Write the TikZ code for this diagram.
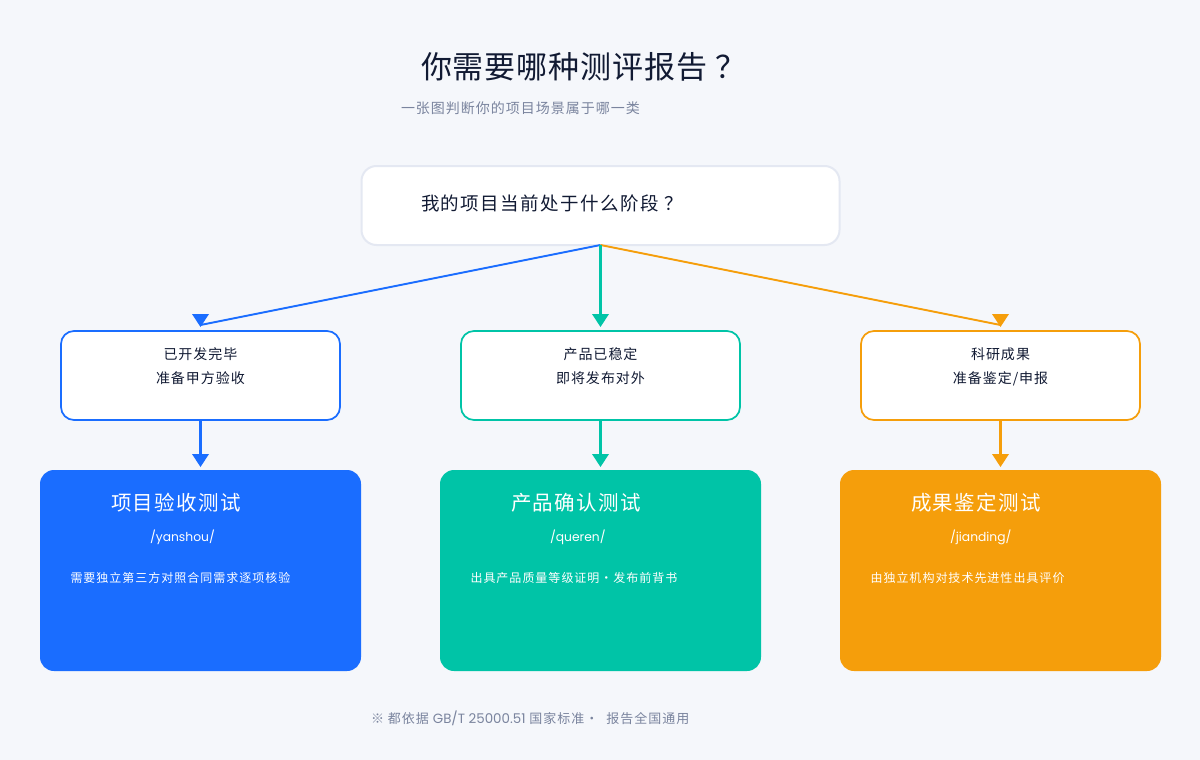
\documentclass[tikz,border=0pt]{standalone}
\usepackage{fontspec}
\usetikzlibrary{calc}
\setmainfont{Noto Sans CJK SC}
\newfontfamily\ftitle[LetterSpace=3.2]{Noto Sans CJK SC}
\newfontfamily\fsub[LetterSpace=7.14]{Noto Sans CJK SC}
\newfontfamily\fq[LetterSpace=8.1]{Noto Sans CJK SC}
\newfontfamily\fcard[LetterSpace=7.3]{Noto Sans CJK SC}
\newfontfamily\fdesc[LetterSpace=8.33]{Noto Sans CJK SC}
\newfontfamily\ffoot[LetterSpace=7.7]{Noto Sans CJK SC}
\newfontfamily\fpop{Poppins}
\definecolor{pagebg}{HTML}{F5F7FB}
\definecolor{inka}{HTML}{111A33}
\definecolor{grayink}{HTML}{7A849E}
\definecolor{edgeq}{HTML}{E4E8F2}
\definecolor{cblue}{HTML}{1A6DFF}
\definecolor{cteal}{HTML}{00C4A7}
\definecolor{camber}{HTML}{F59E0B}
\tikzset{
  qbox/.style={draw=edgeq,line width=2pt,fill=white,rounded corners=15pt,minimum width=478pt,minimum height=79pt,inner sep=0pt,outer sep=0pt},
  choice/.style={draw=#1,line width=1.7pt,fill=white,rounded corners=13pt,minimum width=279pt,minimum height=89pt,inner sep=0pt,outer sep=0pt},
  result/.style={fill=#1,rounded corners=14pt,minimum width=321pt,minimum height=201pt,inner sep=0pt,outer sep=0pt},
  txt/.style={anchor=base west,inner sep=0pt,outer sep=0pt},
  ctr/.style={anchor=base,inner sep=0pt,outer sep=0pt,text=inka,font=\fsub\fontsize{14}{16}\selectfont},
  cardt/.style={txt,text=white,font=\fcard\fontsize{20.5}{24}\selectfont},
  cardl/.style={txt,text=white,font=\fpop\fontsize{12.3}{15}\selectfont},
  cardd/.style={txt,text=white,font=\fdesc\fontsize{12}{14}\selectfont},
  thinlink/.style={draw=#1,line width=1.9pt},
  thicklink/.style={draw=#1,line width=3pt},
  headtri/.style={fill=#1},
}
\newcommand{\headat}[2]{\fill[headtri=#1] (#2) -- ++(-8.5,-13) -- ++(17,0) -- cycle;}
\begin{document}
\begin{tikzpicture}[x=1pt,y=-1pt]
\useasboundingbox (0,0) rectangle (1200,760);
\fill[pagebg] (0,0) rectangle (1200,760);
\node[txt,text=inka,font=\ftitle\fontsize{31}{36}\selectfont] (title) at (421,78) {你需要哪种测评报告\kern8pt？};
\node[txt,text=grayink,font=\fsub\fontsize{14}{16}\selectfont] (sub) at (401,113.5) {一张图判断你的项目场景属于哪一类};
\node[qbox] (q) at (600.5,205.5) {};
\node[txt,text=inka,font=\fq\fontsize{18.5}{22}\selectfont] (qt) at (421,210.5) {我的项目当前处于什么阶段\kern5pt？};
\node[choice=cblue] (a) at (200.5,375.5) {};
\node[choice=cteal] (b) at (600.5,375.5) {};
\node[choice=camber] (c) at (1000.5,375.5) {};
\node[ctr] (a1) at (200.5,359) {已开发完毕};
\node[ctr] (a2) at (200.5,383) {准备甲方验收};
\node[ctr] (b1) at (600.5,359) {产品已稳定};
\node[ctr] (b2) at (600.5,383) {即将发布对外};
\node[ctr] (c1) at (1000.5,359) {科研成果};
\node[ctr] (c2) at (1000.5,383) {准备鉴定/申报};
\node[result=cblue] (ra) at (200.5,570.5) {};
\node[result=cteal] (rb) at (600.5,570.5) {};
\node[result=camber] (rc) at (1000.5,570.5) {};
\node[cardt] (ra1) at (111,510.5) {项目验收测试};
\node[cardl] (ra2) at (150,541) {/yanshou/};
\node[cardd] (ra3) at (70.5,582) {需要独立第三方对照合同需求逐项核验};
\node[cardt] (rb1) at (511,510.5) {产品确认测试};
\node[cardl] (rb2) at (550,541) {/queren/};
\node[cardd] (rb3) at (470.5,582) {出具产品质量等级证明·发布前背书};
\node[cardt] (rc1) at (911,510.5) {成果鉴定测试};
\node[cardl] (rc2) at (950,541) {/jianding/};
\node[cardd] (rc3) at (870.5,582) {由独立机构对技术先进性出具评价};
\coordinate (ta) at ($(a.north)+(0,-4)$);
\coordinate (tb) at ($(b.north)+(0,-4)$);
\coordinate (tc) at ($(c.north)+(0,-4)$);
\coordinate (ua) at ($(ra.north)+(0,-3)$);
\coordinate (ub) at ($(rb.north)+(0,-3)$);
\coordinate (uc) at ($(rc.north)+(0,-3)$);
\draw[thinlink=cblue] (q.south) -- ($(ta)+(0,-2)$);
\draw[thinlink=camber] (q.south) -- ($(tc)+(0,-2)$);
\draw[thicklink=cteal] (q.south) -- ($(tb)+(0,-12)$);
\headat{cblue}{ta}
\headat{cteal}{tb}
\headat{camber}{tc}
\draw[thicklink=cblue] (a.south) -- ($(ua)+(0,-12)$);
\draw[thicklink=cteal] (b.south) -- ($(ub)+(0,-12)$);
\draw[thicklink=camber] (c.south) -- ($(uc)+(0,-12)$);
\headat{cblue}{ua}
\headat{cteal}{ub}
\headat{camber}{uc}
\node[txt,text=grayink,font=\ffoot\fontsize{13}{15}\selectfont] (foot) at (371,723) {※ 都依据 {\fpop\fontsize{13.4}{15}\selectfont GB/T 25000.51} 国家标准·\ \ 报告全国通用};
\end{tikzpicture}
\end{document}
